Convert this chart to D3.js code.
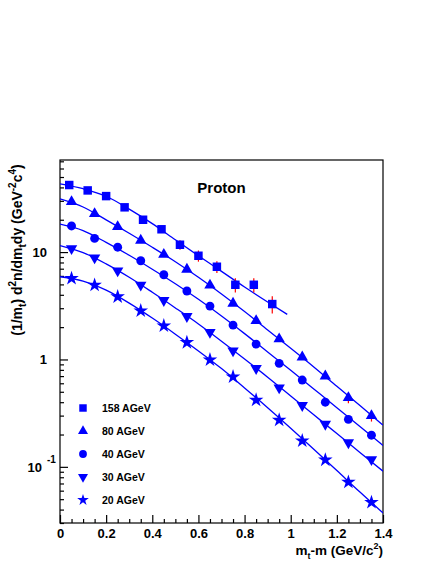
<!DOCTYPE html>
<html>
<head>
<meta charset="utf-8">
<script src="https://cdn.jsdelivr.net/npm/d3@7"></script>
<style>
body { margin: 0; background: #fff; }
text { font-family: "Liberation Sans", Arial, Helvetica, sans-serif; font-weight: bold; fill: #000; }
</style>
</head>
<body>
<div class="chart"></div>
<script>
const width = 436
const height = 564

// data
const energies = ["158 AGeV", "80 AGeV", "40 AGeV", "30 AGeV", "20 AGeV"]

const x158 = [0.04, 0.12, 0.20, 0.28, 0.36, 0.44, 0.52, 0.60, 0.68, 0.76, 0.84, 0.92]
const y158 = [42.1, 37.5, 33.2, 26.1, 20.0, 16.3, 11.7, 9.24, 7.30, 4.96, 4.96, 3.28]
const e158 = [0.3, 0.3, 0.3, 0.3, 0.3, 0.3, 1.2, 1.1, 0.9, 0.75, 0.75, 0.6]

const xLow = [0.05, 0.15, 0.25, 0.35, 0.45, 0.55, 0.65, 0.75, 0.85, 0.95, 1.05, 1.15, 1.25, 1.35]
const y80 = [29.4, 22.7, 17.2, 12.85, 9.5, 6.9, 4.9, 3.33, 2.29, 1.55, 1.05, 0.70, 0.44, 0.299]
const e80 = [0, 0, 0, 0, 0, 0, 0, 0, 0, 0, 0, 0, 0.05, 0.035]
const y40 = [17.5, 13.4, 11.1, 8.3, 6.15, 4.34, 3.14, 2.09, 1.39, 0.92, 0.643, 0.40, 0.277, 0.197]
const y30 = [10.8, 8.85, 6.7, 4.93, 3.55, 2.52, 1.79, 1.205, 0.826, 0.545, 0.374, 0.25, 0.168, 0.117]
const y20 = [5.69, 4.93, 3.84, 2.84, 2.06, 1.44, 0.993, 0.69, 0.419, 0.273, 0.175, 0.116, 0.072, 0.0467]

// fit curves
const fitX158 = [0, 0.1, 0.2, 0.3, 0.4, 0.5, 0.6, 0.7, 0.8, 0.9, 0.985]
const fit158 = [43.2, 38.9, 33.1, 25.1, 18.4, 13.0, 9.23, 6.61, 4.73, 3.43, 2.63]
const fitX = [0, 0.1, 0.2, 0.3, 0.4, 0.5, 0.6, 0.7, 0.8, 0.9, 1.0, 1.1, 1.2, 1.3, 1.4]
const fit80 = [31.3, 26.3, 19.95, 14.96, 11.09, 8.13, 5.82, 4.07, 2.79, 1.88, 1.27, 0.851, 0.562, 0.372, 0.245]
const fit40 = [18.2, 15.85, 12.3, 9.33, 6.92, 5.07, 3.63, 2.54, 1.74, 1.175, 0.794, 0.531, 0.355, 0.237, 0.158]
const fit30 = [11.5, 9.89, 7.76, 5.82, 4.22, 3.02, 2.14, 1.48, 1.01, 0.684, 0.457, 0.305, 0.204, 0.136, 0.0912]
const fit20 = [5.89, 5.37, 4.42, 3.35, 2.43, 1.72, 1.20, 0.822, 0.543, 0.355, 0.229, 0.146, 0.0923, 0.0582, 0.0372]

const xTicks = [0, 0.2, 0.4, 0.6, 0.8, 1, 1.2, 1.4]
const xTickLabels = ["0", "0.2", "0.4", "0.6", "0.8", "1", "1.2", "1.4"]
const yTicks = [0.1, 1, 10]
const yTickBase = ["10", "1", "10"]
const yTickExp = ["-1", "", ""]

const blue = "#0000ff"
const margin = { top: 160, right: 53, bottom: 41, left: 60 }
const innerWidth = width - margin.left - margin.right
const innerHeight = height - margin.top - margin.bottom

const svg = d3.select(".chart")
    .append("svg")
    .attr("width", width)
    .attr("height", height)

const xScale = d3.scaleLinear()
    .domain([0, 1.4])
    .range([0, innerWidth])

const yScale = d3.scaleLog()
    .domain([0.03, 72])
    .range([innerHeight, 0])

const g = svg.append("g")
    .attr("transform", `translate(${margin.left}, ${margin.top})`)

g.append("clipPath").attr("id", "clip")
    .append("rect").attr("width", innerWidth).attr("height", innerHeight)

// frame
g.append("rect")
    .attr("width", innerWidth)
    .attr("height", innerHeight)
    .attr("fill", "none")
    .attr("stroke", "#000")
    .attr("stroke-width", 1.2)

// x ticks, pointing inward
const xMinor = d3.range(0, 1.4001, 0.05).filter(v => Math.abs(v / 0.2 - Math.round(v / 0.2)) > 1e-6)
g.append("g")
    .attr("transform", `translate(0, ${innerHeight})`)
    .call(d3.axisBottom(xScale).tickValues(xMinor).tickSize(-4).tickFormat(""))
    .call(a => a.selectAll("path.domain, text").remove())
g.append("g")
    .attr("transform", `translate(0, ${innerHeight})`)
    .call(d3.axisBottom(xScale).tickValues(xTicks).tickSize(-8).tickPadding(6)
        .tickFormat((d, i) => xTickLabels[i]))
    .call(a => a.selectAll("path.domain").remove())
    .call(a => a.selectAll("text").style("font-size", "13px").attr("fill", "#000"))

// y ticks, pointing inward
const yMinor = []
for (let e = -2; e <= 1; e++) {
    for (let k = 2; k <= 9; k++) {
        const v = k * Math.pow(10, e)
        if (v >= 0.03 && v <= 72) yMinor.push(v)
    }
}
g.append("g")
    .call(d3.axisLeft(yScale).tickValues(yMinor).tickSize(-4).tickFormat(""))
    .call(a => a.selectAll("path.domain, text").remove())
g.append("g")
    .call(d3.axisLeft(yScale).tickValues(yTicks).tickSize(-8).tickFormat(""))
    .call(a => a.selectAll("path.domain, text").remove())

g.selectAll("line").attr("stroke", "#000").attr("stroke-width", 1.2)

// y labels: base right-aligned, exponent hangs to its right
g.append("g").selectAll("text")
    .data(yTicks)
    .enter().append("text")
        .attr("x", (d, i) => yTickExp[i] ? -18 : -13)
        .attr("y", d => yScale(d) + 5)
        .attr("text-anchor", "end")
        .style("font-size", "13px")
        .text((d, i) => yTickBase[i])
g.append("g").selectAll("text")
    .data(yTicks.filter((d, i) => yTickExp[i]))
    .enter().append("text")
        .attr("x", -13)
        .attr("y", d => yScale(d) - 4)
        .style("font-size", "10px")
        .text(d => yTickExp[yTicks.indexOf(d)])

// titles
svg.append("text")
    .attr("x", margin.left + xScale(0.7))
    .attr("y", 193)
    .attr("text-anchor", "middle")
    .style("font-size", "15px")
    .text("Proton")

const xt = svg.append("text")
    .attr("x", margin.left + innerWidth)
    .attr("y", 555)
    .attr("text-anchor", "end")
    .style("font-size", "13.5px")
xt.append("tspan").text("m")
xt.append("tspan").attr("dy", 4).style("font-size", "9px").text("t")
xt.append("tspan").attr("dy", -4).text("-m (GeV/c")
xt.append("tspan").attr("dy", -6).style("font-size", "9px").text("2")
xt.append("tspan").attr("dy", 6).text(")")

const yt = svg.append("text")
    .attr("transform", `translate(22, 250) rotate(-90)`)
    .attr("text-anchor", "middle")
    .style("font-size", "14px")
const ytParts = [
    ["(1/m", 0, 14], ["t", 4, 10], [") d", -4, 14], ["2", -6, 10], ["n/dm", 6, 14],
    ["t", 4, 10], ["dy (GeV", -4, 14], ["-2", -6, 10], ["c", 6, 14], ["4", -6, 10], [")", 6, 14]
]
ytParts.forEach(p => yt.append("tspan").attr("dy", p[1]).style("font-size", p[2] + "px").text(p[0]))

// series
const shapes = [
    d3.symbol().type(d3.symbolSquare).size(72)(),
    d3.symbol().type(d3.symbolTriangle).size(56)(),
    d3.symbol().type(d3.symbolCircle).size(62)(),
    d3.symbol().type(d3.symbolTriangle).size(56)(),
    d3.symbol().type(d3.symbolStar).size(66)()
]
const flips = [0, 0, 0, 180, 0]

const series = [
    { xs: x158, ys: y158, es: e158, fx: fitX158, fy: fit158 },
    { xs: xLow, ys: y80, es: e80, fx: fitX, fy: fit80 },
    { xs: xLow, ys: y40, es: null, fx: fitX, fy: fit40 },
    { xs: xLow, ys: y30, es: null, fx: fitX, fy: fit30 },
    { xs: xLow, ys: y20, es: null, fx: fitX, fy: fit20 }
]

const line = d3.line()
    .x(d => xScale(d[0]))
    .y(d => yScale(d[1]))
    .curve(d3.curveMonotoneX)

const plot = g.append("g").attr("clip-path", "url(#clip)")

series.forEach((s, si) => {
    plot.append("path")
        .datum(s.fx.map((x, i) => [x, s.fy[i]]))
        .attr("d", line)
        .attr("fill", "none")
        .attr("stroke", blue)
        .attr("stroke-width", 1.3)

    const pts = s.xs.map((x, i) => ({ x: x, y: s.ys[i], e: s.es ? s.es[i] : 0 }))

    plot.selectAll(null)
        .data(pts.filter(d => d.e > 0))
        .enter().append("line")
            .attr("x1", d => xScale(d.x))
            .attr("x2", d => xScale(d.x))
            .attr("y1", d => yScale(d.y + d.e))
            .attr("y2", d => yScale(d.y - d.e))
            .attr("stroke", "#ff0000")
            .attr("stroke-width", 1.2)

    plot.selectAll(null)
        .data(pts)
        .enter().append("path")
            .attr("d", shapes[si])
            .attr("transform", d => `translate(${xScale(d.x)}, ${yScale(d.y)}) rotate(${flips[si]})`)
            .attr("fill", blue)
})

// legend
const legend = svg.append("g")
    .selectAll("g")
    .data(energies)
    .enter().append("g")
        .attr("transform", (d, i) => `translate(83, ${408 + i * 23})`)

legend.append("path")
    .attr("d", (d, i) => i === 4 ? d3.symbol().type(d3.symbolStar).size(42)() : shapes[i])
    .attr("transform", (d, i) => `rotate(${flips[i]}) scale(${i === 4 ? 1 : 0.88})`)
    .attr("fill", blue)

legend.append("text")
    .attr("x", 19)
    .attr("y", 4)
    .style("font-size", "10.5px")
    .text(d => d)
</script>
</body>
</html>
